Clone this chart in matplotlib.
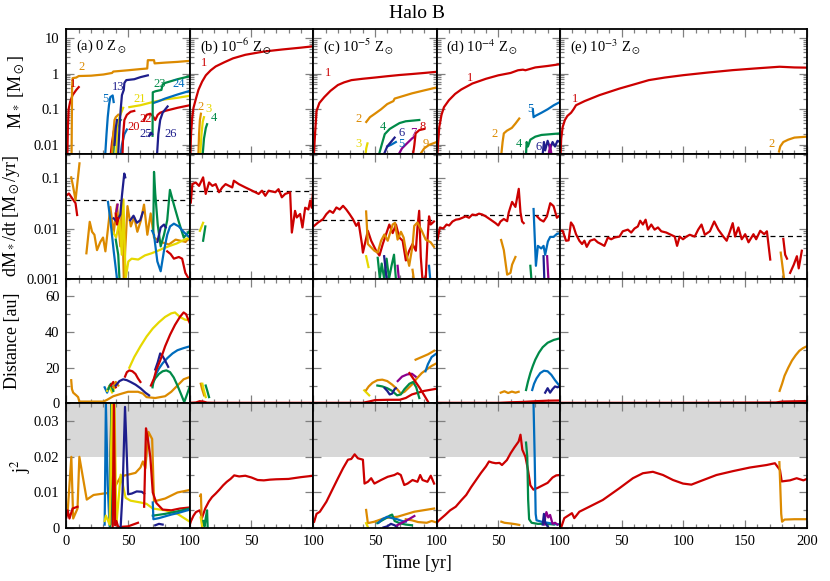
import matplotlib
matplotlib.use("Agg")
import numpy as np
import matplotlib.pyplot as plt
from matplotlib.ticker import MultipleLocator, FixedLocator, FixedFormatter, NullFormatter, LogLocator

# ---------------- data (time [yr], value) ----------------
# row 1 : stellar mass [Msun]
ma_1 = [(0.8, 0.0056), (1.2, 0.03), (1.8, 0.1), (3, 0.16), (5, 0.25), (8, 0.35), (10, 0.42)]
ma_2 = [(4.2, 0.0056), (4.4, 0.05), (4.6, 0.4), (5, 0.75), (8, 0.78), (10, 0.86), (20, 0.88), (30, 0.95),
        (37, 1.05), (38, 1.15), (50, 1.25), (60, 1.35), (65.5, 1.4), (66, 2.4), (71, 2.4), (71.5, 1.95),
        (80, 2.05), (90, 2.15), (100, 2.3)]
ma_5 = [(31.5, 0.0056), (32.5, 0.02), (33.5, 0.06), (34.5, 0.13), (35.6, 0.22), (37.5, 0.245), (38.3, 0.16)]
ma_13 = [(42, 0.0056), (43, 0.03), (44, 0.1), (45, 0.25), (46.5, 0.35), (47, 0.55), (48.5, 0.66), (55, 0.7),
         (60, 0.8), (66, 0.9)]
ma_20 = [(45.5, 0.0056), (46, 0.02), (47, 0.05), (49, 0.07), (52, 0.085), (55, 0.09)]
ma_21 = [(51, 0.115), (60, 0.13), (70, 0.16), (80, 0.19), (90, 0.21), (100, 0.24)]
ma_22 = [(63, 0.05), (65, 0.07), (68, 0.075), (70, 0.065), (72, 0.05), (74, 0.07), (76, 0.08), (80, 0.09),
         (90, 0.11), (100, 0.13)]
ma_23 = [(69.8, 0.018), (70, 0.3), (72, 0.32), (77, 0.35), (78, 0.5), (80, 0.55), (90, 0.7), (100, 0.85)]
ma_24 = [(70.5, 0.15), (75, 0.17), (80, 0.2), (90, 0.26), (100, 0.33)]
ma_25 = [(67, 0.018), (68.6, 0.022), (69.5, 0.02)]
ma_26 = [(73.5, 0.0056), (74.5, 0.02), (76, 0.05), (78, 0.08), (82, 0.12)]
ma_or = [(37, 0.0056), (38, 0.02), (39, 0.05), (40, 0.06), (42, 0.07)]
ma_ye = [(40.5, 0.0056), (41, 0.03), (43, 0.06), (45, 0.09), (46, 0.11)]
ma_gr = [(38, 0.0056), (38.5, 0.01), (40, 0.02), (42, 0.04), (44, 0.05)]
ma_re = [(36, 0.0056), (37, 0.012), (38.5, 0.025), (40, 0.03)]
ma_bl = [(44, 0.0056), (45, 0.01), (47, 0.02), (49, 0.027)]
ma_nv = [(39, 0.01), (40, 0.03), (41, 0.05)]

mb_1 = [(0.5, 0.0056), (1, 0.02), (2, 0.06), (3, 0.11), (5, 0.2), (7, 0.35), (10, 0.6), (13, 0.9), (17, 1.25),
        (21, 1.6), (28, 2.1), (35, 2.7), (45, 3.4), (60, 4.2), (75, 4.8), (90, 5.4), (100, 5.9)]
mb_2 = [(7.0, 0.0056), (7.5, 0.02), (8.2, 0.05), (9, 0.075)]
mb_3 = [(8.5, 0.0056), (9.5, 0.02), (10.5, 0.045), (11.5, 0.06)]
mb_4 = [(10.5, 0.0056), (11.5, 0.015), (13, 0.03), (14, 0.038)]

mc_1 = [(0.6, 0.0056), (1.5, 0.02), (2.7, 0.09), (5, 0.15), (9, 0.22), (14, 0.33), (20, 0.48), (25, 0.57),
        (31, 0.66), (40, 0.72), (50, 0.78), (60, 0.85), (70, 0.92), (80, 0.98), (90, 1.05), (100, 1.13)]
mc_2 = [(43, 0.044), (46, 0.06), (50, 0.075), (55, 0.1), (60, 0.14), (65, 0.17), (66, 0.2), (70, 0.22),
        (80, 0.28), (90, 0.34), (100, 0.41)]
mc_3 = [(42.5, 0.0056), (43, 0.008), (44, 0.011)]
mc_4 = [(53.5, 0.0056), (55.5, 0.01), (58, 0.02), (62, 0.028), (66, 0.034), (70, 0.041), (75, 0.046), (86, 0.05)]
mc_5 = [(60, 0.009), (63, 0.01), (67, 0.012)]
mc_6 = [(57.5, 0.0056), (60, 0.009), (63, 0.012), (66, 0.016)]
mc_7 = [(69.5, 0.0056), (72, 0.008), (76, 0.011), (80, 0.015), (82, 0.017)]
mc_8 = [(81, 0.0056), (82, 0.01), (83, 0.021), (86, 0.026), (90, 0.028)]
mc_9 = [(87, 0.0056), (90, 0.008), (94, 0.01), (100, 0.012)]

md_1 = [(0.6, 0.0056), (1.5, 0.015), (2.2, 0.032), (4, 0.07), (6, 0.115), (10, 0.18), (15, 0.27), (20, 0.36),
        (29, 0.53), (40, 0.72), (50, 0.9), (60, 1.05), (66, 1.25), (70, 1.3), (72, 1.25), (80, 1.5), (90, 1.65),
        (100, 1.85)]
md_2 = [(52.5, 0.0056), (53.5, 0.012), (54.5, 0.021), (57, 0.025), (61, 0.03), (64, 0.04), (67, 0.055)]
md_4 = [(72.5, 0.0056), (73, 0.012), (74, 0.009), (76, 0.014), (80, 0.017), (85, 0.019), (100, 0.021)]
md_5 = [(78, 0.1), (78.6, 0.06), (80, 0.065), (85, 0.08), (90, 0.1), (95, 0.13), (100, 0.16)]
md_6 = [(86, 0.0056), (87, 0.012), (88, 0.007), (90, 0.013), (92, 0.008), (94, 0.012), (96, 0.009), (98, 0.013),
        (100, 0.012)]
md_p = [(91, 0.0056), (92, 0.01), (93, 0.0056)]

me_1 = [(0.5, 0.0056), (1, 0.015), (2.2, 0.032), (4, 0.05), (6, 0.065), (9, 0.08), (11, 0.1), (13, 0.13),
        (20, 0.17), (32, 0.25), (48, 0.38), (60, 0.5), (72, 0.66), (85, 0.78), (100, 0.91), (120, 1.08),
        (140, 1.26), (160, 1.42), (178, 1.57), (190, 1.5), (200, 1.48)]
me_2 = [(177.5, 0.0065), (178.5, 0.009), (181, 0.012), (185, 0.014), (190, 0.016), (200, 0.017)]

# row 2 : accretion rate [Msun/yr]
rate_mean = [0.037, 0.057, 0.0147, 0.0188, 0.0070]

ra_red1 = [(0.7, 0.047), (2, 0.05), (4.7, 0.04), (7.4, 0.032), (8.7, 0.0186)]
ra_red2 = [(81.7, 0.0035), (84.4, 0.0031), (87.1, 0.0025), (91.1, 0.0027), (93.8, 0.0025), (96.4, 0.0013),
           (99.1, 0.001)]
ra_red3 = [(40, 0.02), (41, 0.012), (42, 0.016)]
ra_or1 = [(3.9, 0.105), (5.2, 0.074), (7.4, 0.037), (10.6, 0.2)]
ra_or2 = [(16.2, 0.0032), (18.9, 0.0136), (20.8, 0.0086), (22.7, 0.0075), (24.8, 0.0037), (27.5, 0.0054),
          (29.7, 0.0066), (31.6, 0.0035), (34.3, 0.0136), (35.6, 0.027), (38.3, 0.008), (41, 0.03),
          (43.7, 0.0044), (45, 0.035), (46.5, 0.001), (49.5, 0.028), (52.2, 0.011), (54.9, 0.017),
          (57.5, 0.0086), (60.2, 0.014), (62.9, 0.03), (65.6, 0.0075), (68.3, 0.02), (71, 0.0066),
          (76.4, 0.0054), (83.1, 0.0048), (88.5, 0.006), (96.6, 0.0054), (99.3, 0.0065)]
ra_ye = [(37.6, 0.0086), (40.3, 0.0066), (43, 0.014), (44.9, 0.003), (46.2, 0.038), (48, 0.001), (50.2, 0.0022),
         (52.9, 0.0025), (58.2, 0.0024), (63.6, 0.0029), (69, 0.0032), (73, 0.0035), (78.5, 0.004),
         (83.8, 0.0045), (89.2, 0.005), (94.5, 0.0058), (99.9, 0.0066)]
ra_bl1 = [(33.7, 0.034), (35.6, 0.015), (38.3, 0.0036), (41, 0.001)]
ra_bl2 = [(69.5, 0.009), (71, 0.0075), (73.7, 0.0022), (76.4, 0.0014), (79, 0.0035), (81.7, 0.0075),
          (84, 0.011), (87.1, 0.0125), (91.1, 0.011), (95.1, 0.0085), (100, 0.0066)]
ra_nv1 = [(38.3, 0.016), (41, 0.0136), (43.7, 0.019), (45, 0.045), (46.9, 0.125), (47.7, 0.105)]
ra_nv2 = [(51.7, 0.0146), (54.4, 0.018), (57.1, 0.013), (59.8, 0.0146), (61.9, 0.021)]
ra_nv3 = [(73.7, 0.0054), (76.4, 0.0105), (79.1, 0.012), (80.5, 0.0105)]
ra_gr1 = [(40, 0.006), (42, 0.003), (43, 0.001)]
ra_gr2 = [(70.4, 0.0086), (71, 0.135), (72, 0.05), (74, 0.012), (76.4, 0.0044), (79.1, 0.0075), (81.7, 0.0146),
          (83.9, 0.059), (87.1, 0.03), (91.1, 0.0136), (95.1, 0.0066), (99.2, 0.0086)]
ra_pu = [(40.5, 0.022), (41.5, 0.03)]

rb_red = [(0.8, 0.033), (2.1, 0.077), (4.8, 0.083), (7.5, 0.071), (10.8, 0.105), (12.9, 0.049), (15.6, 0.083),
          (18.3, 0.071), (21, 0.077), (23.7, 0.053), (26.3, 0.066), (29, 0.077), (34.4, 0.066), (35.7, 0.09),
          (39.7, 0.077), (45.1, 0.066), (50.5, 0.057), (55.8, 0.049), (58.5, 0.057), (61.2, 0.045),
          (63.9, 0.057), (69.3, 0.053), (71.9, 0.061), (74.6, 0.042), (77.3, 0.049), (81.3, 0.053),
          (82.7, 0.0083), (85.3, 0.0225), (86.7, 0.0166), (89.4, 0.0195), (91.3, 0.0105), (93.5, 0.026),
          (96.1, 0.024), (97.5, 0.036), (98.8, 0.026), (100, 0.057)]
rb_ye = [(8.2, 0.009), (10.8, 0.013)]
rb_gr = [(10.8, 0.0057), (12.6, 0.011)]

rc_red = [(0.8, 0.0113), (4, 0.0132), (8, 0.0154), (10.7, 0.0194), (13.4, 0.0226), (16.1, 0.0205),
          (18.8, 0.0263), (21.5, 0.024), (24.2, 0.0284), (26.8, 0.024), (29.5, 0.0194), (32.2, 0.0154),
          (34.9, 0.0113), (36.8, 0.0132), (39.5, 0.0049), (40.3, 0.0033), (44.3, 0.009), (47, 0.0057),
          (51, 0.0036), (53.7, 0.0029), (56.4, 0.0049), (59, 0.0076), (61.7, 0.012), (64.4, 0.0081),
          (67.1, 0.012), (69.8, 0.0066), (72.5, 0.0057), (75.1, 0.0023), (77.8, 0.0036), (80.5, 0.0049),
          (83.2, 0.0036), (84.5, 0.0105), (85.9, 0.0226), (87.2, 0.0027), (88.5, 0.001), (91.2, 0.001),
          (92.6, 0.0057), (93.9, 0.0175), (95.2, 0.012), (97.9, 0.0138)]
rc_or = [(42.9, 0.0219), (44.3, 0.0049), (49.6, 0.0036), (52.3, 0.0033), (55, 0.0057), (57.7, 0.0076),
         (60.4, 0.0057), (64.4, 0.012), (66.3, 0.013), (68.4, 0.006), (71.1, 0.0086), (73.3, 0.0066),
         (75.1, 0.0036), (77.8, 0.0018), (80.5, 0.0045), (81.9, 0.0113), (84.5, 0.0132), (88, 0.009),
         (91.2, 0.006), (95.2, 0.0053), (97.9, 0.0043)]
rc_or2 = [(80.5, 0.0015), (81.5, 0.001)]
rc_ye = [(42.9, 0.0028), (44.8, 0.0017)]
rc_gr = [(52.3, 0.0026), (54, 0.001), (55.5, 0.002), (57.5, 0.001), (59.5, 0.0025), (61.5, 0.001),
         (63.5, 0.0018), (65.5, 0.003), (67, 0.001)]
rc_nv = [(57.5, 0.0028), (59.5, 0.001)]
rc_pu = [(68.4, 0.0018), (69.4, 0.001)]
rc_bl = [(93.9, 0.0018), (94.8, 0.001)]

rd_red1 = [(0.8, 0.0061), (2.7, 0.0105), (5.4, 0.0100), (8.1, 0.012), (10.2, 0.0115), (12.9, 0.0138),
           (15.6, 0.015), (18.3, 0.0154), (21, 0.0164), (23.6, 0.0175), (26.3, 0.0164), (29, 0.019),
           (31.7, 0.0185), (34.4, 0.0198), (37.1, 0.019), (39.8, 0.0175), (43.8, 0.015), (47.8, 0.0128),
           (50, 0.0115), (51.8, 0.0138), (54.5, 0.0155), (57.2, 0.014), (58.5, 0.021), (61.2, 0.034),
           (63.9, 0.027), (66.6, 0.062), (68, 0.021), (69.3, 0.0138), (70.6, 0.0128)]
rd_red2 = [(81.4, 0.0175), (84, 0.015), (86.7, 0.0138), (89.4, 0.0175), (92.1, 0.032), (94.8, 0.028),
           (97.5, 0.0164), (98.8, 0.0175)]
rd_or = [(52.3, 0.0059), (54.5, 0.0037), (57.2, 0.0012), (59.9, 0.0013), (61.2, 0.0019), (63.9, 0.0027)]
rd_bl = [(78.6, 0.0245), (80.5, 0.0018), (82.1, 0.0045), (84.8, 0.004), (86.7, 0.0045), (88, 0.003),
         (90.2, 0.0055), (92.1, 0.0068), (94.8, 0.0068), (97.5, 0.0078), (99.5, 0.008)]
rd_gr = [(76, 0.0018), (76.8, 0.001)]
rd_nv = [(86.7, 0.0028), (87.3, 0.001)]
rd_pu = [(89.6, 0.0028), (90.6, 0.001)]

re_red1 = [(0.8, 0.009), (2.2, 0.009), (4.9, 0.0057), (7.0, 0.0058), (8.9, 0.0132), (10.8, 0.0113),
           (13, 0.0077), (15.7, 0.0057), (17.9, 0.0049), (19.8, 0.0057), (21.7, 0.0043), (24.4, 0.0057),
           (27.9, 0.0061), (30.6, 0.0053), (33.3, 0.0049), (36, 0.0045), (38.8, 0.0066), (41.5, 0.0061),
           (44.2, 0.0066), (48.2, 0.0069), (50.9, 0.0088), (55, 0.0095), (57.7, 0.0083), (60.4, 0.01),
           (63.1, 0.011), (65, 0.0143), (67.2, 0.012), (69.4, 0.015), (71.3, 0.0095), (74, 0.012),
           (76.7, 0.0095), (79.4, 0.0105), (82.1, 0.0088), (86.2, 0.0083), (88.9, 0.0077), (93, 0.0069),
           (94.9, 0.0045), (97, 0.0069), (99.7, 0.0061), (102.5, 0.0069), (105.2, 0.0075), (109.2, 0.0069),
           (112, 0.0095), (114.7, 0.012), (117.4, 0.0075), (121.5, 0.0088), (125, 0.0138), (128.3, 0.0095),
           (132.4, 0.0069), (135.1, 0.0057), (137.8, 0.0088), (140, 0.0128), (141.9, 0.0069), (144.6, 0.0105),
           (147.3, 0.0061), (150.1, 0.0077), (152.8, 0.0053), (156.8, 0.0077), (159, 0.0061), (162.3, 0.009),
           (165.5, 0.0077), (167.7, 0.0088), (170.4, 0.0024)]
re_red2 = [(181, 0.0062), (182.5, 0.003), (184, 0.0025)]
re_red3 = [(186.5, 0.0013), (189.5, 0.0019), (192, 0.0028), (193.5, 0.0016), (196, 0.0036)]
re_or = [(178.9, 0.0033), (181.6, 0.001)]

# row 3 : distance [au]
da_or = [(3.9, 13), (4.5, 8), (5.5, 6), (8, 4.5), (9.5, 3.5), (10.5, 1), (20, 1), (30, 1), (33, 2), (38, 4),
         (45, 5.5), (50, 6.5), (58, 6.5), (62, 5.5), (65, 3.5), (72, 3), (80, 4), (85, 6.5), (90, 10),
         (95, 13.5), (100, 14.8)]
da_ye = [(51, 20), (55, 26), (60, 32), (65, 37.5), (70, 42), (75, 45.5), (80, 48.5), (85, 50.5), (88, 51),
         (92, 48.5), (96, 47), (100, 46.5)]
da_red1 = [(68.5, 10), (71, 14), (73, 19), (76, 24), (80, 32), (84, 38.5), (88, 44), (92, 48.5), (95, 51),
           (97, 50), (100, 45)]
da_red2 = [(47.5, 15), (49, 17.5), (51, 18.5), (53.5, 18), (56, 16.5), (58, 14), (60, 12)]
da_bl = [(70.5, 12), (72, 15.5), (75, 19.5), (78, 22.5), (82, 25.5), (86, 28), (90, 29.8), (95, 31), (100, 32)]
da_nv1 = [(40, 10), (43, 12.5), (46, 13.5), (49, 13), (52, 12), (56, 10.5), (60, 8.5), (64, 6), (67, 4.5)]
da_nv2 = [(72, 19), (74, 23), (76, 28), (78, 26.5), (80, 24), (82.5, 20.5)]
da_gr = [(69.8, 9), (70.5, 12), (72, 14), (75, 16.5), (78, 18), (81, 18.5), (84, 17.5), (87, 14.5), (90, 10),
         (93, 5), (95.5, 0.7), (98, 5.5), (100, 9.5)]
da_bl_s = [(31, 9), (33, 6), (35, 10), (37, 7)]
da_ye_s = [(33, 7), (35, 10), (37, 6), (39, 9)]
da_gr_s = [(34, 8), (36, 11), (38, 7)]
da_re_s = [(36, 10), (38, 12), (40, 9)]
da_or_s = [(38, 9), (40, 12), (42, 10)]

db_red = [(0, 0.3), (5, 0.5), (8, 1.2), (11, 1.0), (14, 0.4), (20, 0.3), (100, 0.3)]
db_or = [(8.9, 11), (10, 8), (11.6, 4.5)]
db_ye = [(10.2, 11), (11.5, 7), (12.9, 3.5)]
db_gr = [(12.9, 10), (14.2, 7), (15.6, 3.5)]

dc_red = [(0, 0.3), (40, 0.3), (45, 1), (50, 1.8), (60, 2), (70, 2), (75, 3), (80, 5), (85, 6), (90, 7),
          (100, 8.2)]
dc_red2 = [(78, 17), (82, 13), (86, 9), (90, 4.5), (93, 1)]
dc_or1 = [(43, 7.5), (45, 9.5), (48, 11.5), (52, 13), (56, 13.3), (60, 12.5), (64, 10.5), (68, 8), (71, 5.5),
          (74, 6.5), (77, 8.5), (80, 10.5), (84, 14), (88, 17), (92, 19), (96, 21), (100, 22.5)]
dc_or2 = [(83, 24.5), (88, 26), (93, 27.5), (98, 29.5)]
dc_ye = [(41.4, 7.3), (45.4, 4.5)]
dc_gr = [(52, 10), (56, 9.5), (60, 8.5), (64, 7), (68, 4.5), (71, 5), (74, 8), (78, 11), (81, 12), (83.5, 9),
         (86, 3)]
dc_nv = [(58, 8.5), (60, 7), (62, 5), (64, 5.5), (66, 8), (67, 8.5)]
dc_pu = [(68.5, 12.5), (72, 15), (76, 16.2), (80, 16.6), (83, 15)]
dc_bl = [(91, 18), (93, 22), (96, 26), (100, 28)]

dd_red = [(0, 0.3), (50, 0.3), (60, 0.6), (70, 0.8), (80, 1.2), (90, 1.5), (100, 1.6)]
dd_or = [(52, 6.0), (55, 6.8), (58, 5.8), (61, 6.6), (64, 6.0), (66.5, 6.5)]
dd_gr = [(72.5, 7.5), (74, 12), (76, 17), (78, 21), (80, 24.5), (83, 28.5), (86, 31.5), (90, 34), (95, 35.6),
         (100, 36.5)]
dd_bl = [(77.5, 7.5), (79, 11), (81, 14), (84, 17), (87, 18.3), (90, 18), (93, 16), (96, 13), (100, 9.5)]
dd_nv = [(88, 6), (90, 8.5), (92, 6), (94, 8), (96, 9.5), (98, 9), (100, 9.5)]

de_red = [(0, 0.3), (100, 0.3), (175, 0.5), (180, 1.0), (200, 1.3)]
de_or = [(178, 7), (180, 11), (182, 15.5), (185, 20), (188, 24), (191, 27), (194, 29.5), (197, 31), (200, 32)]

# row 4 : j^2
ja_or = [(1, 0.0045), (4, 0.02), (5.5, 0.0027), (9, 0.0055), (10.5, 0.02), (13.5, 0.014), (16.5, 0.008),
         (22, 0.0093), (30, 0.0097), (35, 0.0099), (36.5, 0.035), (38, 0.012), (40, 0.012), (44, 0.0145),
         (50, 0.015), (56, 0.0155), (60, 0.017), (62, 0.0187), (64, 0.0168), (66.5, 0.027), (69.5, 0.025),
         (71, 0.0075), (80, 0.0083), (90, 0.01), (100, 0.0107)]
ja_red1 = [(0, 0.003), (1, 0.005), (2.5, 0.0027), (5, 0.0055), (9, 0.006)]
ja_red2 = [(37.5, 0.0), (38.5, 0.035), (39.5, 0.0008), (40.5, 0.002), (42, 0.0003), (50, 0.0005), (58, 0.0015)]
ja_red3 = [(63, 0.006), (64.5, 0.028), (66, 0.025), (68, 0.02), (70, 0.01), (73, 0.007), (78, 0.0052),
           (85, 0.005), (92, 0.0055), (100, 0.0058)]
ja_nv1 = [(44, 0.0005), (45.5, 0.01), (47.5, 0.034), (49, 0.02), (50, 0.0095), (53, 0.0097), (57, 0.0103),
          (61, 0.0102), (63, 0.0097)]
ja_nv2 = [(72, 0.0008), (75, 0.0012), (78, 0.001)]
ja_ye = [(31, 0.002), (32, 0.0035), (35, 0.001), (37, 0.035), (38, 0.002), (39, 0.035), (40.5, 0.001),
         (44, 0.015), (48, 0.0085), (52, 0.0077), (60, 0.0072), (65, 0.0068), (70, 0.0055), (80, 0.005),
         (90, 0.004), (100, 0.0018)]
ja_bl1 = [(31, 0.001), (32, 0.035), (33.5, 0.012), (35, 0.0005), (36.5, 0.035), (38, 0.002)]
ja_bl2 = [(70, 0.0072), (70.5, 0.0025), (75, 0.0028), (80, 0.0033), (85, 0.0038), (90, 0.0042), (95, 0.0047),
          (100, 0.0052)]
ja_gr1 = [(35.5, 0.0005), (36.5, 0.035), (37.5, 0.001), (38.5, 0.035), (39.5, 0.003)]
ja_gr2 = [(70, 0.0035), (80, 0.004), (90, 0.0047), (100, 0.0055)]

jb_red = [(0, 0.001), (1, 0.002), (3, 0.0035), (5, 0.0045), (8, 0.005), (10, 0.003), (12.5, 0.0055),
          (15.5, 0.0075), (18, 0.0087), (21, 0.0097), (24, 0.0108), (27, 0.012), (30, 0.013), (33, 0.0138),
          (36, 0.0148), (40, 0.0145), (45, 0.0147), (50, 0.0142), (55, 0.0135), (60, 0.0134), (65, 0.0136),
          (70, 0.0137), (80, 0.0138), (90, 0.0143), (100, 0.0147)]
jb_or = [(8.5, 0.009), (9, 0.0095), (9.5, 0.004), (10, 0.0)]
jb_ye = [(8.8, 0.003), (10.5, 0.0)]
jb_gr = [(11, 0.002), (12, 0.0005), (13, 0.003), (14, 0.005), (14.5, 0.0)]

jc_red = [(0.8, 0.0018), (2.7, 0.004), (5.4, 0.0046), (10.7, 0.0074), (16.1, 0.0112), (20.1, 0.014),
          (24.2, 0.0168), (28.2, 0.0192), (30.9, 0.0194), (33.6, 0.0207), (36.2, 0.0196), (40.3, 0.0192),
          (41.6, 0.0125), (44.3, 0.013), (47, 0.014), (49.6, 0.0125), (55, 0.0135), (60.4, 0.0144),
          (65.8, 0.0149), (68.4, 0.0154), (71, 0.0149), (73.8, 0.0121), (76.5, 0.0125), (80.5, 0.0135),
          (84.5, 0.013), (86.7, 0.0149), (88.6, 0.0135), (92.6, 0.013), (95.3, 0.0147), (98, 0.0125)]
jc_or1 = [(42.9, 0.0051), (44.3, 0.0014), (49.6, 0.0018), (57.7, 0.0028), (68.4, 0.0032), (81.9, 0.0046),
          (98, 0.0055)]
jc_or2 = [(75, 0.0025), (80, 0.0022), (85, 0.0017), (92, 0.0015), (96, 0.002), (100, 0.0016)]
jc_gr = [(52, 0.0014), (55, 0.002), (59, 0.0028), (62, 0.0035), (64, 0.0038), (66, 0.002), (70, 0.0014),
         (75, 0.001), (80, 0.0008)]
jc_bl = [(53, 0.0015), (56, 0.0025), (60, 0.0032), (64, 0.0028), (68, 0.0025), (72, 0.002), (75, 0.0018)]
jc_nv = [(57, 0.0002), (60, 0.0005), (63, 0.0012), (66, 0.0008), (68, 0.0003)]
jc_pu = [(68, 0.0008), (72, 0.0015), (76, 0.0022), (80, 0.003), (82, 0.0034)]
jc_ye = [(42.9, 0.0014), (44.3, 0.0003)]

jd_red = [(0, 0.0015), (3, 0.0025), (7, 0.0037), (11, 0.005), (15.5, 0.006), (20, 0.0078), (24, 0.0093),
          (28, 0.0115), (32, 0.0135), (36, 0.0155), (40, 0.0173), (42.5, 0.0187), (45, 0.0184), (48, 0.0182),
          (51, 0.0183), (53, 0.0177), (57, 0.0191), (60, 0.021), (63, 0.0226), (66.5, 0.0243), (68, 0.0262),
          (69.5, 0.022), (72, 0.02), (74, 0.0165), (76, 0.012), (78.5, 0.0108), (82, 0.0113), (86, 0.012),
          (90, 0.0127), (94, 0.0142), (97, 0.0148), (100, 0.0149)]
jd_or = [(52.5, 0.0018), (55, 0.0015), (60, 0.0013), (64, 0.0011), (67, 0.0009)]
jd_gr = [(72.5, 0.024), (73.5, 0.02), (74.2, 0.008), (75, 0.0025), (77, 0.0015), (82, 0.0012), (90, 0.0012),
         (95, 0.001)]
jd_bl = [(78.5, 0.036), (79.5, 0.02), (80.3, 0.004), (81, 0.0022), (85, 0.0018), (90, 0.0015), (95, 0.0012),
         (98, 0.001), (100, 0.0012)]
jd_pu = [(87.5, 0.001), (88, 0.003), (89, 0.0045), (90.5, 0.003), (92, 0.0037), (94, 0.0012), (96, 0.0015),
         (98, 0.001)]
jd_nv = [(86, 0.001), (87, 0.004), (88, 0.0015), (90, 0.0005)]

je_red = [(0.8, 0.0), (3.5, 0.0028), (7.5, 0.0037), (9.7, 0.0042), (11.6, 0.0028), (15.7, 0.0046), (23.8, 0.006),
          (34.7, 0.0079), (48.2, 0.0112), (59.1, 0.014), (67.2, 0.0154), (75.3, 0.0158), (83.5, 0.0149),
          (91.6, 0.0135), (99.7, 0.0125), (106.5, 0.0122), (113.2, 0.0131), (126.8, 0.0149), (140.3, 0.016),
          (153.9, 0.017), (167.4, 0.0177), (174.2, 0.0182), (178.3, 0.0163), (179.7, 0.0131), (186.4, 0.0134),
          (191.8, 0.014), (197.3, 0.0134), (200, 0.0138)]
je_or = [(177.8, 0.0185), (178.5, 0.012), (179.3, 0.004), (180, 0.0018), (182, 0.0024), (190, 0.0025),
         (200, 0.0025)]

panel_tags = [r"(a) 0 Z$_\odot$", r"(b) 10$^{-6}$ Z$_\odot$", r"(c) 10$^{-5}$ Z$_\odot$",
              r"(d) 10$^{-4}$ Z$_\odot$", r"(e) 10$^{-3}$ Z$_\odot$"]
tmax = [100, 100, 100, 100, 200]
row_labels = [r"M$_*$ [M$_\odot$]", r"dM$_*$/dt [M$_\odot$/yr]", "Distance [au]", r"j$^2$"]

# ---------------- style ----------------
RED, ORA, YEL, BLU = "#cc0000", "#dc8a00", "#e6d800", "#006cbd"
GRN, NAV, PUR = "#008a48", "#1e1e8c", "#8c008c"

plt.rcParams['font.family'] = ['Liberation Serif', 'DejaVu Serif']
plt.rcParams['mathtext.fontset'] = 'stix'

curves = [
    [  # row 1
        [(ma_re, RED), (ma_gr, GRN), (ma_or, ORA), (ma_ye, YEL), (ma_bl, BLU), (ma_nv, NAV), (ma_1, RED),
         (ma_2, ORA), (ma_5, BLU), (ma_13, NAV), (ma_20, RED), (ma_21, YEL), (ma_22, RED), (ma_24, BLU),
         (ma_23, GRN), (ma_25, NAV), (ma_26, NAV)],
        [(mb_1, RED), (mb_2, ORA), (mb_3, YEL), (mb_4, GRN)],
        [(mc_1, RED), (mc_2, ORA), (mc_3, YEL), (mc_4, GRN), (mc_5, BLU), (mc_6, NAV), (mc_7, PUR), (mc_8, RED),
         (mc_9, ORA)],
        [(md_1, RED), (md_2, ORA), (md_4, GRN), (md_5, BLU), (md_6, NAV), (md_p, PUR)],
        [(me_1, RED), (me_2, ORA)],
    ],
    [  # row 2
        [(ra_or2, ORA), (ra_ye, YEL), (ra_bl1, BLU), (ra_nv1, NAV), (ra_nv2, NAV), (ra_gr1, GRN), (ra_red3, RED),
         (ra_pu, PUR), (ra_gr2, GRN), (ra_nv3, NAV), (ra_bl2, BLU), (ra_red2, RED), (ra_red1, RED),
         (ra_or1, ORA)],
        [(rb_red, RED), (rb_ye, YEL), (rb_gr, GRN)],
        [(rc_gr, GRN), (rc_nv, NAV), (rc_pu, PUR), (rc_bl, BLU), (rc_ye, YEL), (rc_or2, ORA), (rc_red, RED),
         (rc_or, ORA)],
        [(rd_gr, GRN), (rd_nv, NAV), (rd_pu, PUR), (rd_or, ORA), (rd_bl, BLU), (rd_red1, RED), (rd_red2, RED)],
        [(re_red1, RED), (re_red2, RED), (re_red3, RED), (re_or, ORA)],
    ],
    [  # row 3
        [(da_bl_s, BLU), (da_ye_s, YEL), (da_gr_s, GRN), (da_re_s, RED), (da_or_s, ORA), (da_or, ORA),
         (da_nv1, NAV), (da_red2, RED), (da_ye, YEL), (da_bl, BLU), (da_gr, GRN), (da_nv2, NAV), (da_red1, RED)],
        [(db_red, RED), (db_or, ORA), (db_ye, YEL), (db_gr, GRN)],
        [(dc_red, RED), (dc_ye, YEL), (dc_or1, ORA), (dc_gr, GRN), (dc_nv, NAV), (dc_pu, PUR), (dc_red2, RED),
         (dc_or2, ORA), (dc_bl, BLU)],
        [(dd_red, RED), (dd_or, ORA), (dd_gr, GRN), (dd_bl, BLU), (dd_nv, NAV)],
        [(de_red, RED), (de_or, ORA)],
    ],
    [  # row 4
        [(ja_or, ORA), (ja_red1, RED), (ja_bl1, BLU), (ja_gr1, GRN), (ja_ye, YEL), (ja_red2, RED),
         (ja_nv1, NAV), (ja_nv2, NAV), (ja_red3, RED), (ja_gr2, GRN), (ja_bl2, BLU)],
        [(jb_red, RED), (jb_or, ORA), (jb_ye, YEL), (jb_gr, GRN)],
        [(jc_red, RED), (jc_or1, ORA), (jc_or2, ORA), (jc_gr, GRN), (jc_bl, BLU), (jc_nv, NAV), (jc_pu, PUR),
         (jc_ye, YEL)],
        [(jd_red, RED), (jd_or, ORA), (jd_gr, GRN), (jd_bl, BLU), (jd_pu, PUR), (jd_nv, NAV)],
        [(je_red, RED), (je_or, ORA)],
    ],
]

# curve numbers in the mass row (t, M, text, colour)
numbers = [
    [(5.5, 0.53, '1', RED), (12.2, 1.57, '2', ORA), (31.8, 0.2, '5', BLU), (41.7, 0.41, '13', NAV),
     (59.2, 0.2, '21', YEL), (75.3, 0.51, '23', GRN), (91.4, 0.51, '24', BLU), (64.6, 0.054, '22', RED),
     (54.6, 0.032, '20', RED), (64.6, 0.02, '25', NAV), (84.7, 0.02, '26', NAV)],
    [(11.5, 1.95, '1', RED), (8.8, 0.115, '2', ORA), (15.5, 0.105, '3', YEL), (19.6, 0.057, '4', GRN)],
    [(12.1, 1.04, '1', RED), (37, 0.055, '2', ORA), (37, 0.0107, '3', YEL), (56.4, 0.031, '4', GRN),
     (71.7, 0.021, '6', NAV), (71.7, 0.0107, '5', BLU), (81.4, 0.021, '7', PUR), (88.6, 0.031, '8', RED),
     (91, 0.0107, '9', ORA)],
    [(27.1, 0.74, '1', RED), (46.7, 0.02, '2', ORA), (76.3, 0.105, '5', BLU), (66.7, 0.0107, '4', GRN),
     (83.1, 0.0085, '6', NAV)],
    [(11.9, 0.2, '1', RED), (171.5, 0.0107, '2', ORA)],
]

fig = plt.figure(figsize=(8.3, 5.81), dpi=100)
gs = fig.add_gridspec(4, 5, width_ratios=[1, 1, 1, 1, 2], left=0.080, right=0.972,
                      top=0.950, bottom=0.091, wspace=0, hspace=0)

ylims = [(0.0056, 18), (0.001, 0.31), (0, 70), (0, 0.035)]
label_x = [-0.33, -0.36, -0.37, -0.27]

for r in range(4):
    for c in range(5):
        ax = fig.add_subplot(gs[r, c])
        if r < 2:
            ax.set_yscale('log')
        ax.set_xlim(0, tmax[c])
        ax.set_ylim(*ylims[r])

        if r == 3:
            ax.axhspan(0.02, 0.035, color='#d8d8d8', lw=0, zorder=0)
        if r == 1:
            ax.axhline(rate_mean[c], color='k', ls=(0, (4, 3)), lw=0.9, zorder=1)

        for pts, col in curves[r][c]:
            t, v = zip(*pts)
            ax.plot(t, v, color=col, lw=1.6, solid_joinstyle='round', zorder=2)

        if r == 0:
            for tx, ty, s, col in numbers[c]:
                ax.text(tx, ty, s, color=col, fontsize=9, ha='center', va='center')
            xt = 0.08 if c < 4 else 0.04
            ax.text(xt, 0.86, panel_tags[c], transform=ax.transAxes, fontsize=10.5, va='center')

        # ticks
        xticks = list(range(0, tmax[c] + 1, 50))
        ax.xaxis.set_major_locator(FixedLocator(xticks))
        ax.xaxis.set_minor_locator(FixedLocator(list(range(0, tmax[c] + 1, 10))))
        xlabs = [str(v) for v in xticks]
        if c > 0:
            xlabs[0] = ''
        ax.xaxis.set_major_formatter(FixedFormatter(xlabs))

        if r == 0:
            ax.yaxis.set_major_locator(FixedLocator([0.01, 0.1, 1, 10]))
            ax.yaxis.set_major_formatter(FixedFormatter(['0.01', '0.1', '1', '10']))
        elif r == 1:
            ax.yaxis.set_major_locator(FixedLocator([0.001, 0.01, 0.1]))
            ax.yaxis.set_major_formatter(FixedFormatter(['0.001', '0.01', '0.1']))
        elif r == 2:
            ax.yaxis.set_major_locator(FixedLocator([0, 20, 40, 60]))
            ax.yaxis.set_major_formatter(FixedFormatter(['0', '20', '40', '60']))
            ax.yaxis.set_minor_locator(FixedLocator([10, 30, 50, 70]))
        else:
            ax.yaxis.set_major_locator(FixedLocator([0, 0.01, 0.02, 0.03]))
            ax.yaxis.set_major_formatter(FixedFormatter(['0', '0.01', '0.02', '0.03']))
            ax.yaxis.set_minor_locator(FixedLocator([0.005, 0.015, 0.025, 0.035]))
        if r < 2:
            ax.yaxis.set_minor_locator(LogLocator(base=10, subs=np.arange(2, 10), numticks=20))
            ax.yaxis.set_minor_formatter(NullFormatter())

        ax.tick_params(which='both', direction='in', top=True, right=True, color='#808080',
                       labelsize=10.5, width=0.9)
        ax.tick_params(which='major', length=6, pad=5)
        ax.tick_params(which='minor', length=3)
        for sp in ax.spines.values():
            sp.set_linewidth(1.3)

        if c > 0:
            ax.tick_params(labelleft=False)
        else:
            ax.set_ylabel(row_labels[r], fontsize=13)
            ax.yaxis.set_label_coords(label_x[r], 0.5)
        if r < 3:
            ax.tick_params(labelbottom=False)

fig.text(417 / 830, 1 - 14 / 581, "Halo B", ha='center', va='center', fontsize=14)
fig.text(417 / 830, 1 - 563 / 581, "Time [yr]", ha='center', va='center', fontsize=13)

fig.savefig("out.png", dpi=100)
